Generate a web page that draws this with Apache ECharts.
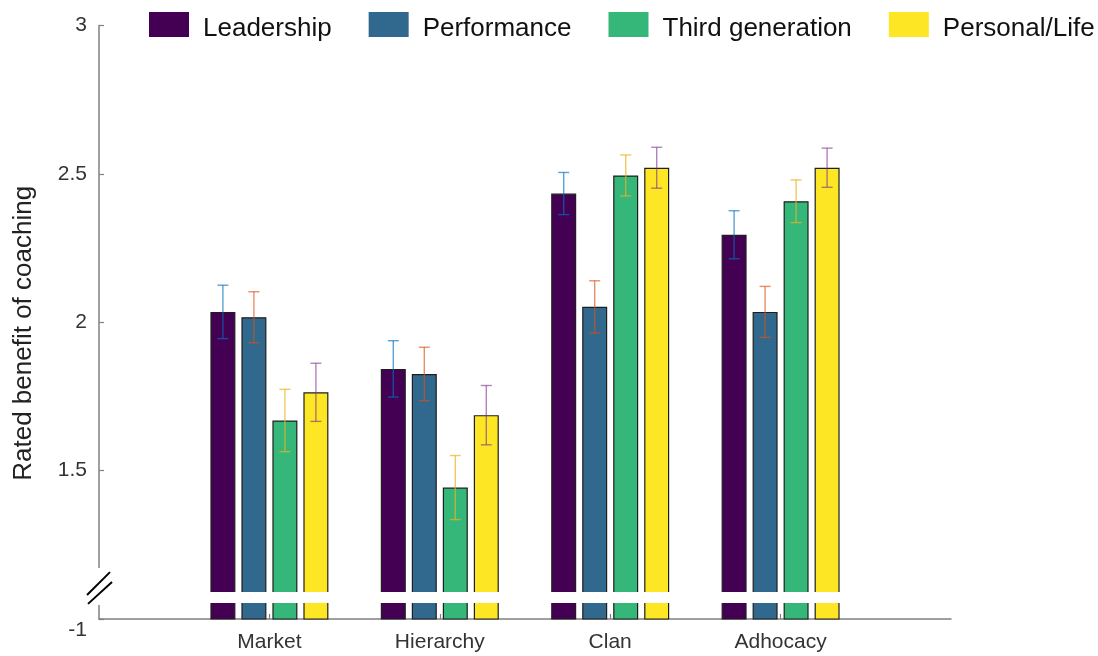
<!DOCTYPE html>
<html>
<head>
<meta charset="utf-8">
<script src="https://cdn.jsdelivr.net/npm/echarts@6/dist/echarts.min.js"></script>
<style>
html,body{margin:0;padding:0;background:#fff;}
#chart{width:1098px;height:656px;}
</style>
</head>
<body>
<div id="chart"></div>
<script>
// ---- data ----
const categories = ['Market', 'Hierarchy', 'Clan', 'Adhocacy'];
const seriesNames = ['Leadership', 'Performance', 'Third generation', 'Personal/Life'];
const leadership = [2.035, 1.843, 2.434, 2.295];
const performance = [2.017, 1.826, 2.052, 2.035];
const thirdGeneration = [1.669, 1.443, 2.495, 2.408];
const personalLife = [1.764, 1.687, 2.521, 2.521];
const leadershipErr = [0.090, 0.095, 0.071, 0.081];
const performanceErr = [0.086, 0.090, 0.088, 0.086];
const thirdGenerationErr = [0.105, 0.108, 0.069, 0.072];
const personalLifeErr = [0.098, 0.100, 0.069, 0.066];
const yTicks = [1, 1.5, 2, 2.5, 3];
const yTickLabels = ['-1', '1.5', '2', '2.5', '3'];
const yTitle = 'Rated benefit of coaching';

// ---- style ----
const barColors = ['#440154', '#31688e', '#35b779', '#fde725'];
const errColors = ['rgba(0,114,189,0.65)', 'rgba(217,83,25,0.65)', 'rgba(237,177,32,0.7)', 'rgba(126,47,142,0.6)'];
const BAR_W = 25, BAR_GAP = 6;
const axisColor = '#808080';
const FONT = '"Liberation Sans", Arial, Helvetica, sans-serif';

const values = [leadership, performance, thirdGeneration, personalLife];
const errs = [leadershipErr, performanceErr, thirdGenerationErr, personalLifeErr];
const xData = [''].concat(categories, ['']);

const chart = echarts.init(document.getElementById('chart'), null, {renderer: 'canvas'});

const series = [];
values.forEach((vals, i) => {
  series.push({
    name: seriesNames[i],
    type: 'bar',
    barWidth: BAR_W,
    barGap: (BAR_GAP / BAR_W * 100) + '%',
    data: [null].concat(vals, [null]),
    itemStyle: {color: barColors[i], borderColor: '#1e1e1e', borderWidth: 1.2},
    emphasis: {disabled: true},
    z: 2
  });
});
values.forEach((vals, i) => {
  const offset = (i - (values.length - 1) / 2) * (BAR_W + BAR_GAP);
  series.push({
    name: seriesNames[i] + ' error',
    type: 'custom',
    z: 5,
    silent: true,
    data: vals.map((v, k) => [k + 1, v - errs[i][k], v + errs[i][k]]),
    renderItem: function (params, api) {
      const xi = api.value(0);
      const top = api.coord([xi, api.value(2)]);
      const bot = api.coord([xi, api.value(1)]);
      const x = top[0] + offset;
      const hw = 5.5;
      const st = {stroke: errColors[i], lineWidth: 1.4, fill: null};
      return {
        type: 'group',
        children: [
          {type: 'line', shape: {x1: x, y1: top[1], x2: x, y2: bot[1]}, style: st},
          {type: 'line', shape: {x1: x - hw, y1: top[1], x2: x + hw, y2: top[1]}, style: st},
          {type: 'line', shape: {x1: x - hw, y1: bot[1], x2: x + hw, y2: bot[1]}, style: st}
        ]
      };
    }
  });
});

chart.setOption({
  animation: false,
  backgroundColor: '#ffffff',
  textStyle: {fontFamily: FONT},
  grid: {left: 99, right: 147, top: 25.6, bottom: 37, containLabel: false},
  legend: {
    data: seriesNames,
    left: 149,
    top: 12,
    width: 960,
    padding: 0,
    itemWidth: 40,
    itemHeight: 25,
    itemGap: 37,
    icon: 'rect',
    selectedMode: false,
    itemStyle: {borderWidth: 0},
    formatter: function (name) { return '{t|' + name + '}'; },
    textStyle: {
      fontSize: 26, color: '#111', fontFamily: FONT, padding: [0, 0, 0, 9],
      rich: {t: {fontSize: 26, color: '#111', fontFamily: FONT, padding: [8, 0, 0, 0]}}
    }
  },
  xAxis: {
    type: 'category',
    data: xData,
    boundaryGap: false,
    axisLine: {lineStyle: {color: axisColor, width: 1.5}},
    axisTick: {
      inside: true, length: 5,
      interval: function (idx) { return idx >= 1 && idx <= categories.length; },
      lineStyle: {color: axisColor, width: 1.2}
    },
    axisLabel: {interval: 0, fontSize: 21, color: '#333', margin: 13, fontFamily: FONT},
    splitLine: {show: false}
  },
  yAxis: {
    type: 'value',
    min: yTicks[0],
    max: yTicks[yTicks.length - 1],
    interval: yTicks[1] - yTicks[0],
    name: yTitle,
    nameLocation: 'middle',
    nameGap: 62,
    nameTextStyle: {fontSize: 26, color: '#222', fontFamily: FONT, padding: [0, 22, 0, 0]},
    axisLine: {show: true, lineStyle: {color: axisColor, width: 1.5}},
    axisTick: {show: true, inside: true, length: 5, lineStyle: {color: axisColor, width: 1.2}},
    axisLabel: {
      fontSize: 21, color: '#333', margin: 12, fontFamily: FONT,
      formatter: function (v) {
        const k = yTicks.findIndex(t => Math.abs(t - v) < 1e-9);
        const s = k >= 0 ? yTickLabels[k] : String(v);
        return k === 0 ? '{low|' + s + '}' : s;
      },
      rich: {low: {fontSize: 21, color: '#333', fontFamily: FONT, padding: [22, 0, 0, 0]}}
    },
    splitLine: {show: false}
  },
  series: series
});

// ---- axis break decoration (positions derived from the axes) ----
const BAR_BREAK = [1.054, 1.091];
const AXIS_BREAK = [1.047, 1.172];
const yPix = v => chart.convertToPixel({yAxisIndex: 0}, v);
const axisX = chart.convertToPixel({xAxisIndex: 0}, 0);
const rightX = chart.convertToPixel({xAxisIndex: 0}, xData.length - 1);
chart.setOption({
  graphic: [
    {type: 'rect', z: 100, silent: true,
     shape: {x: axisX + 2, y: yPix(BAR_BREAK[1]), width: rightX - axisX - 2, height: yPix(BAR_BREAK[0]) - yPix(BAR_BREAK[1])},
     style: {fill: '#fff'}},
    {type: 'rect', z: 100, silent: true,
     shape: {x: axisX - 4, y: yPix(AXIS_BREAK[1]), width: 8, height: yPix(AXIS_BREAK[0]) - yPix(AXIS_BREAK[1])},
     style: {fill: '#fff'}},
    {type: 'line', z: 101, silent: true,
     shape: {x1: axisX - 12, y1: yPix(1.081), x2: axisX + 11, y2: yPix(1.158)},
     style: {stroke: '#000', lineWidth: 2}},
    {type: 'line', z: 101, silent: true,
     shape: {x1: axisX - 11, y1: yPix(1.051), x2: axisX + 13, y2: yPix(1.125)},
     style: {stroke: '#000', lineWidth: 2}}
  ]
});
</script>
</body>
</html>
